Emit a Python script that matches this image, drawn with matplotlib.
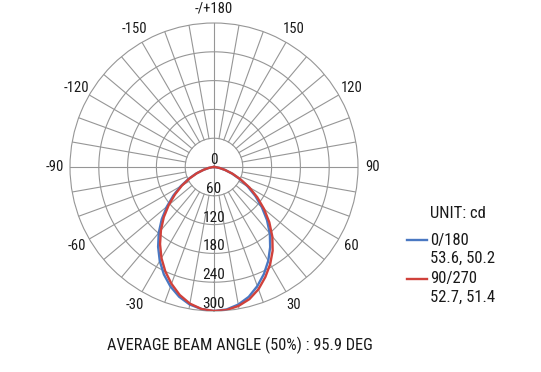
import numpy as np
import matplotlib
matplotlib.use("Agg")
import matplotlib.pyplot as plt
from matplotlib.transforms import offset_copy

plt.rcParams['font.family'] = ['Roboto Condensed', 'Roboto', 'DejaVu Sans']

# Luminous intensity (cd), gamma 0..90 deg in 5 deg steps
gamma = [0, 5, 10, 15, 20, 25, 30, 35, 40, 45, 50, 55, 60, 65, 70, 75, 80, 85, 90]
c0 = [300, 298, 291, 280, 264, 246, 226, 204, 181, 156, 130, 105, 81, 59, 40, 24, 12, 3, 0]
c180 = [300, 297, 291, 280, 265, 247, 226, 203, 179, 154, 128, 103, 80, 58, 39, 23, 11, 3, 0]
c90 = [300, 299, 294, 285, 271, 253, 234, 213, 189, 163, 136, 110, 85, 61, 41, 24, 12, 3, 0]
c270 = [300, 297, 289, 276, 259, 240, 219, 196, 172, 148, 123, 99, 77, 56, 38, 22, 11, 3, 0]

ring_values = [60, 120, 180, 240, 300]
angle_labels = {30: '30', 60: '60', 90: '90', 120: '120', 150: '150',
                180: '-/+180', -150: '-150', -120: '-120', -90: '-90', -60: '-60', -30: '-30'}

blue = '#4a78c2'
red = '#d0413b'
grid_col = '#969696'
txt_col = '#1a1a1a'

W, H = 541, 372
fig = plt.figure(figsize=(W / 100, H / 100), dpi=100)
cx, cy, R = 214, 167, 144
ax = fig.add_axes([(cx - R) / W, (H - cy - R) / H, 2 * R / W, 2 * R / H], projection='polar')
ax.set_theta_zero_location('S')
ax.set_theta_direction(1)
ax.set_ylim(0, 300)
ax.set_xticks([])
ax.set_yticks([])
ax.grid(False)
ax.spines['polar'].set_color(grid_col)
ax.spines['polar'].set_linewidth(0.8)

# grid rings and spokes
t = np.linspace(0, 2 * np.pi, 400)
for r in ring_values[:-1]:
    ax.plot(t, np.full_like(t, r), color=grid_col, lw=0.8, zorder=1)
for a in range(0, 360, 10):
    r0 = 0 if a % 90 == 0 else ring_values[0]
    ax.plot([np.radians(a)] * 2, [r0, 300], color=grid_col, lw=0.8, zorder=1)

# curves: left half (negative angles) then right half
g = np.array(gamma)
th = np.radians(np.concatenate([-g[::-1], g[1:]]))
blue_r = np.concatenate([np.array(c180)[::-1], np.array(c0)[1:]])
red_r = np.concatenate([np.array(c270)[::-1], np.array(c90)[1:]])
ax.plot(th, blue_r, color=blue, lw=1.7, zorder=3)
ax.plot(th, red_r, color=red, lw=1.7, zorder=4)

# radial labels
off = offset_copy(ax.transData, fig=fig, x=0, y=7, units='dots')
for v in [0] + ring_values:
    ax.text(0, v, str(v), transform=off, ha='center', va='center',
            fontsize=11, color=txt_col, zorder=5)

# angle labels
for a, lab in angle_labels.items():
    ax.text(np.radians(a), 331, lab, ha='center', va='center', fontsize=10.5,
            color=txt_col, clip_on=False)

# legend block
fig.text(430 / W, 1 - 213 / H, 'UNIT: cd', fontsize=12, color=txt_col, va='center')
for y0, col, lab, vals in [(240, blue, '0/180', '53.6, 50.2'), (279, red, '90/270', '52.7, 51.4')]:
    fig.add_artist(plt.Line2D([407 / W, 427 / W], [1 - y0 / H] * 2, color=col, lw=1.7))
    fig.text(430 / W, 1 - y0 / H, lab, fontsize=12, color=txt_col, va='center')
    fig.text(430 / W, 1 - (y0 + 18.5) / H, vals, fontsize=12, color=txt_col, va='center')

fig.text(240 / W, 1 - 345 / H, 'AVERAGE BEAM ANGLE (50%) : 95.9 DEG', fontsize=11.8,
         color=txt_col, ha='center', va='center')

fig.savefig('out.png', dpi=100)
